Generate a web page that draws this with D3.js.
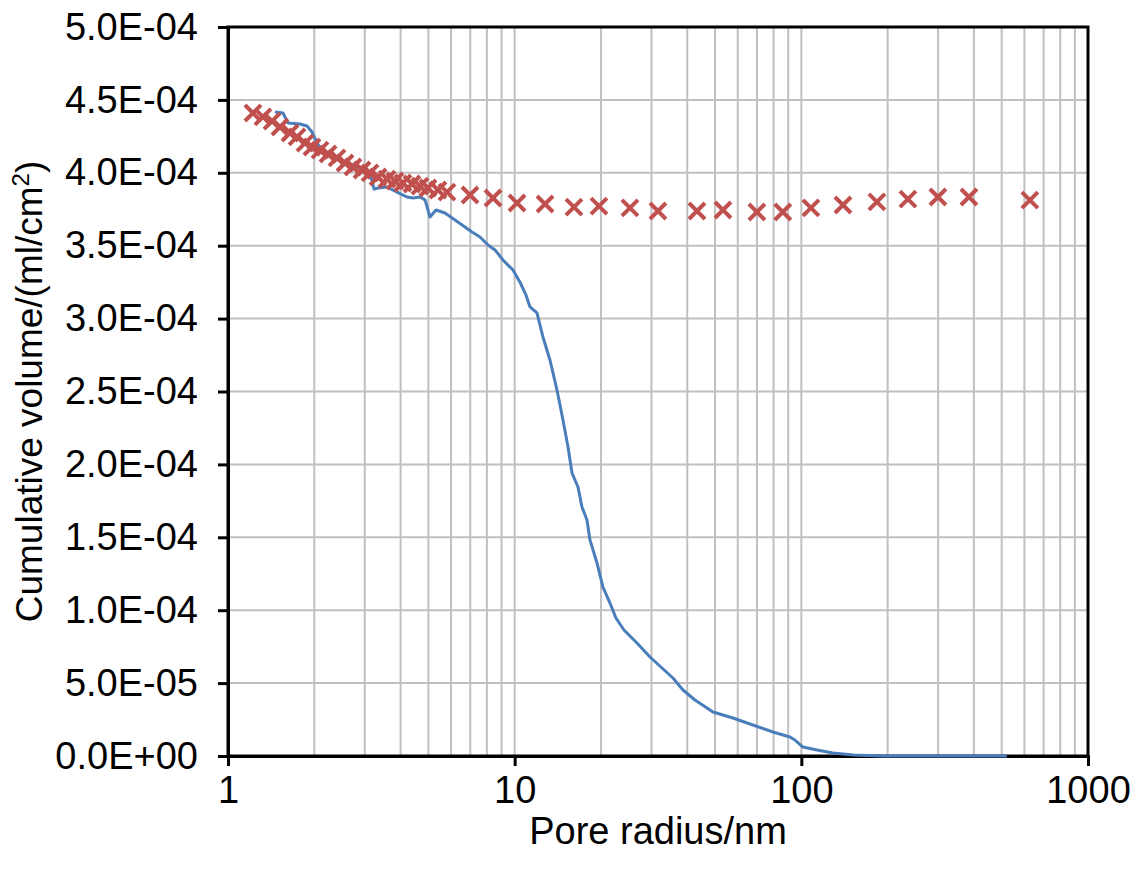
<!DOCTYPE html>
<html>
<head>
<meta charset="utf-8">
<script src="https://cdn.jsdelivr.net/npm/d3@7"></script>
<style>
  body { margin: 0; background: #fff; }
  text { font-family: "Liberation Sans", Arial, sans-serif; fill: #000; }
</style>
</head>
<body>
<div id="chart"></div>
<script>
// Cumulative pore volume vs pore radius (log x)

// Blue line: traced curve (radius in nm, volume in ml/cm2)
const lineRadius = [1.458, 1.555, 1.619, 1.783, 1.886, 1.963, 2.044, 2.145, 2.324, 2.518,
  2.729, 3.005, 3.179, 3.231, 3.337, 3.586, 3.886, 4.210, 4.418, 4.674,
  4.866, 5.066, 5.316, 5.713, 6.192, 6.708, 7.097, 7.568, 8.071, 8.537,
  9.104, 9.865, 10.43, 10.95, 11.31, 11.96, 12.55, 13.28, 14.05, 14.74,
  15.35, 15.85, 16.63, 17.17, 17.87, 18.31, 19.37, 20.32, 21.50, 22.56,
  24.06, 26.71, 29.65, 32.65, 35.66, 38.64, 42.56, 49.17, 57.73, 67.79,
  79.61, 91.26, 95.0, 101.3, 113.4, 128.9, 151.4, 192.6, 521.3];
const lineVolume = [4.417e-4, 4.410e-4, 4.342e-4, 4.335e-4, 4.321e-4, 4.280e-4, 4.205e-4, 4.143e-4, 4.102e-4, 4.074e-4,
  4.054e-4, 4.019e-4, 3.951e-4, 3.889e-4, 3.896e-4, 3.903e-4, 3.868e-4, 3.834e-4, 3.827e-4, 3.834e-4,
  3.814e-4, 3.697e-4, 3.745e-4, 3.724e-4, 3.676e-4, 3.628e-4, 3.594e-4, 3.560e-4, 3.505e-4, 3.471e-4,
  3.402e-4, 3.333e-4, 3.251e-4, 3.162e-4, 3.080e-4, 3.039e-4, 2.874e-4, 2.716e-4, 2.510e-4, 2.305e-4,
  2.119e-4, 1.941e-4, 1.845e-4, 1.708e-4, 1.619e-4, 1.482e-4, 1.324e-4, 1.159e-4, 1.049e-4, 9.465e-5,
  8.642e-5, 7.751e-5, 6.790e-5, 6.036e-5, 5.350e-5, 4.527e-5, 3.841e-5, 3.018e-5, 2.606e-5, 2.126e-5,
  1.646e-5, 1.303e-5, 1.097e-5, 6.17e-6, 4.12e-6, 2.06e-6, 6.9e-7, 0, 0];

// Red crosses
const markRadius = [1.222, 1.324, 1.424, 1.518, 1.645, 1.741, 1.856, 1.963, 2.094, 2.234,
  2.400, 2.559, 2.729, 2.934, 3.129, 3.337, 3.586, 3.824, 4.077, 4.383,
  4.674, 4.984, 5.401, 5.805, 6.985, 8.401, 10.19, 12.76, 16.10, 19.68,
  25.24, 31.61, 43.24, 53.29, 70.0, 86.2, 108.0, 139.7, 183.5, 235.4,
  299.6, 384.3, 627];
const markVolume = [4.410e-4, 4.383e-4, 4.355e-4, 4.314e-4, 4.273e-4, 4.246e-4, 4.204e-4, 4.177e-4, 4.156e-4, 4.129e-4,
  4.102e-4, 4.067e-4, 4.040e-4, 4.019e-4, 3.999e-4, 3.971e-4, 3.957e-4, 3.944e-4, 3.930e-4, 3.923e-4,
  3.909e-4, 3.896e-4, 3.882e-4, 3.868e-4, 3.848e-4, 3.827e-4, 3.793e-4, 3.786e-4, 3.765e-4, 3.772e-4,
  3.759e-4, 3.738e-4, 3.738e-4, 3.745e-4, 3.731e-4, 3.731e-4, 3.759e-4, 3.779e-4, 3.800e-4, 3.820e-4,
  3.834e-4, 3.834e-4, 3.813e-4];

// Axis ticks
const xTicks = [1, 10, 100, 1000];
const yTicks = [0, 5e-5, 1e-4, 1.5e-4, 2e-4, 2.5e-4, 3e-4, 3.5e-4, 4e-4, 4.5e-4, 5e-4];
const yTickLabels = ["0.0E+00", "5.0E-05", "1.0E-04", "1.5E-04", "2.0E-04", "2.5E-04",
  "3.0E-04", "3.5E-04", "4.0E-04", "4.5E-04", "5.0E-04"];

const margin = {top: 27, right: 50, bottom: 115, left: 228},
    width = 1138 - margin.left - margin.right,
    height = 871 - margin.top - margin.bottom;

const svg = d3.select("#chart")
    .append("svg")
    .attr("width", 1138)
    .attr("height", 871)
    .append("g")
    .attr("transform", `translate(${margin.left},${margin.top})`);

const x = d3.scaleLog().domain([1, 1000]).range([0, width]);
const y = d3.scaleLinear().domain([0, 5e-4]).range([height, 0]);

// Gridlines: every log minor value
const minor = [];
[1, 10, 100].forEach(d => { for (let k = 1; k <= 9; k++) minor.push(d * k); });
minor.push(1000);

svg.append("g")
    .selectAll("line")
    .data(minor)
    .enter()
    .append("line")
    .attr("x1", d => x(d)).attr("x2", d => x(d))
    .attr("y1", 0).attr("y2", height)
    .attr("stroke", "#c0c0c0")
    .attr("stroke-width", 2);

svg.append("g")
    .selectAll("line")
    .data(yTicks)
    .enter()
    .append("line")
    .attr("x1", 0).attr("x2", width)
    .attr("y1", d => y(d)).attr("y2", d => y(d))
    .attr("stroke", "#c0c0c0")
    .attr("stroke-width", 2);

// Plot frame
svg.append("rect")
    .attr("width", width)
    .attr("height", height)
    .attr("fill", "none")
    .attr("stroke", "#000")
    .attr("stroke-width", 3);

// Axes
const xAxis = svg.append("g")
    .attr("transform", `translate(0,${height})`)
    .call(d3.axisBottom(x).tickValues(xTicks).tickFormat(d3.format("d")).tickSize(10).tickPadding(10));
const yAxis = svg.append("g")
    .call(d3.axisLeft(y).tickValues(yTicks).tickFormat((d, i) => yTickLabels[i]).tickSize(10).tickPadding(20));

[xAxis, yAxis].forEach(a => {
    a.select(".domain").attr("stroke", "#000").attr("stroke-width", 3);
    a.selectAll(".tick line").attr("stroke", "#000").attr("stroke-width", 3);
    a.selectAll(".tick text")
        .attr("font-family", "Liberation Sans, Arial, sans-serif")
        .attr("font-size", 38)
        .attr("fill", "#000");
});

// Axis labels
svg.append("text")
    .attr("x", width / 2)
    .attr("y", height + 88)
    .attr("text-anchor", "middle")
    .attr("font-size", 38)
    .text("Pore radius/nm");

const yl = svg.append("text")
    .attr("transform", "rotate(-90)")
    .attr("x", -height / 2)
    .attr("y", -186)
    .attr("text-anchor", "middle")
    .attr("font-size", 37);
yl.append("tspan").text("Cumulative volume/(ml/cm");
yl.append("tspan").attr("font-size", 24).attr("dy", -13).text("2");
yl.append("tspan").attr("dy", 13).text(")");

// Blue line
const lineData = lineRadius.map((r, i) => ({r: r, v: lineVolume[i]}));
svg.append("path")
    .datum(lineData)
    .attr("fill", "none")
    .attr("stroke", "#4a7ebb")
    .attr("stroke-width", 3)
    .attr("stroke-linejoin", "round")
    .attr("d", d3.line().x(d => x(d.r)).y(d => y(d.v)));

// Red crosses
const markData = markRadius.map((r, i) => ({r: r, v: markVolume[i]}));
const s = 8;
svg.append("g")
    .selectAll("path")
    .data(markData)
    .enter()
    .append("path")
    .attr("transform", d => `translate(${x(d.r)},${y(d.v)})`)
    .attr("d", `M${-s},${-s}L${s},${s}M${-s},${s}L${s},${-s}`)
    .attr("stroke", "#c0504d")
    .attr("stroke-width", 4)
    .attr("fill", "none");
</script>
</body>
</html>
